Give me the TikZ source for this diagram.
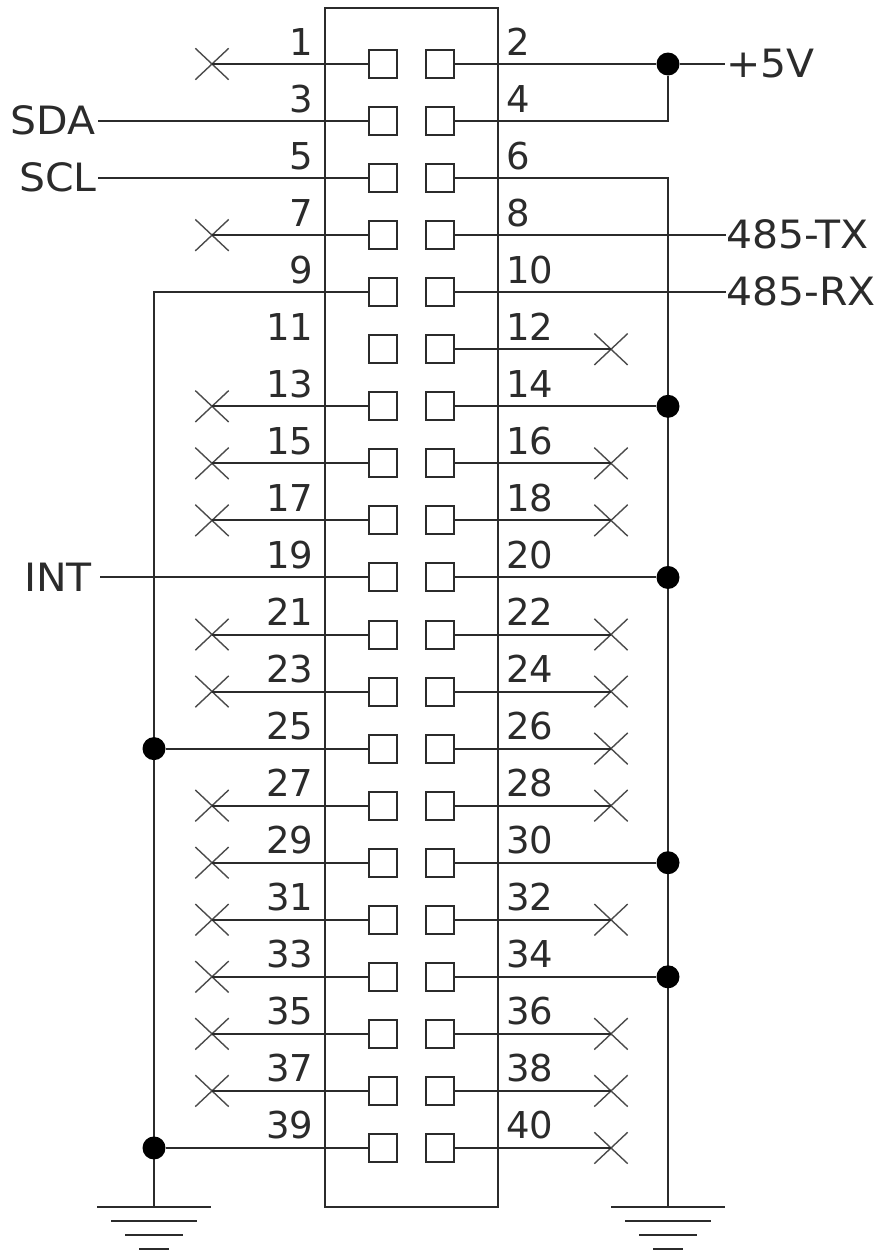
\documentclass[tikz,border=0pt]{standalone}
\usepackage{fontspec}
\setmainfont{DejaVu Sans}
\newfontfamily\sigfont[FakeStretch=1.05]{DejaVu Sans}
\usetikzlibrary{shapes.misc}
\definecolor{ink}{HTML}{2B2B2B}
\tikzset{
  wire/.style={draw=ink,line width=2pt},
  pin/.style={draw=ink,line width=2pt,rectangle,minimum size=28pt,inner sep=0pt,fill=white},
  nc/.style={cross out,draw=ink!85,line width=1.4pt,minimum width=32pt,minimum height=30pt,inner sep=0pt},
  junction/.style={circle,fill=black,minimum size=23pt,inner sep=0pt},
  num/.style={inner sep=0pt,text=ink,font=\fontsize{37}{37}\selectfont},
  sig/.style={inner sep=0pt,text=ink,font=\sigfont\fontsize{39}{39}\selectfont},
}
\begin{document}
\begin{tikzpicture}[x=1pt,y=-1pt]
\useasboundingbox (0,0) rectangle (881,1253);
\node[draw=ink,line width=2pt,rectangle,minimum width=173pt,minimum height=1199pt,inner sep=0pt] (box) at (411.5,607.5) {};
\foreach \n [evaluate=\n as \y using 64+57.05*(\n-1)/2] in {1,3,...,39}{
  \node[pin] (p\n) at (383,\y) {};
  \node[num,anchor=base east] (t\n) at (313.5,\y-9) {\n};
}
\foreach \n [evaluate=\n as \y using 64+57.05*(\n-2)/2] in {2,4,...,40}{
  \node[pin] (p\n) at (439.5,\y) {};
  \node[num,anchor=base west] (t\n) at (506,\y-9) {\n};
}
% unconnected left pins
\foreach \n in {1,7,13,15,17,21,23,27,29,31,33,35,37}{
  \node[nc] (x\n) at (p\n -| 212,0) {};
  \draw[wire] (p\n.west) -- (x\n.center);
}
% unconnected right pins
\foreach \n in {12,16,18,22,24,26,28,32,36,38,40}{
  \node[nc] (x\n) at (p\n -| 611,0) {};
  \draw[wire] (p\n.east) -- (x\n.center);
}
% signal labels, left
\node[sig,anchor=base east] (sda) at (96,134) {SDA};
\node[sig,anchor=base east] (scl) at (97,191) {SCL};
\node[sig,anchor=base east] (int) at (92,591) {INT};
\coordinate (sdaw) at (p3 -| 98,0);
\coordinate (sclw) at (p5 -| 98,0);
\coordinate (intw) at (p19 -| 100,0);
\draw[wire] (sdaw) -- (p3.west);
\draw[wire] (sclw) -- (p5.west);
\draw[wire] (intw) -- (p19.west);
% signal labels, right
\node[sig,anchor=base west] (vcc) at (726,77) {+5V};
\node[sig,anchor=base west] (tx) at (726,248) {485-TX};
\node[sig,anchor=base west] (rx) at (726,305) {485-RX};
\coordinate (vccw) at (p2 -| 725,0);
\coordinate (txw) at (p8 -| 726,0);
\coordinate (rxw) at (p10 -| 726,0);
\node[junction] (j5) at (p2 -| 668,0) {};
\draw[wire] (p2.east) -- (j5);
\draw[wire] (j5) -- (vccw);
\draw[wire] (p4.east) -| (j5.south);
\draw[wire] (p8.east) -- (txw);
\draw[wire] (p10.east) -- (rxw);
% ground symbols
\coordinate (gl) at (154,1207);
\coordinate (gr) at (668,1207);
\foreach \g in {gl,gr}{
  \draw[wire] ([xshift=-57pt]\g) -- ([xshift=57pt]\g);
  \draw[wire] ([shift={(-43pt,-14pt)}]\g) -- ([shift={(43pt,-14pt)}]\g);
  \draw[wire] ([shift={(-29pt,-28pt)}]\g) -- ([shift={(29pt,-28pt)}]\g);
  \draw[wire] ([shift={(-15pt,-42pt)}]\g) -- ([shift={(15pt,-42pt)}]\g);
}
% left bus
\draw[wire] (p9.west) -| (gl);
\foreach \n in {25,39}{
  \node[junction] (j\n) at (p\n -| gl) {};
  \draw[wire] (j\n) -- (p\n.west);
}
% right bus
\draw[wire] (p6.east) -| (gr);
\foreach \n in {14,20,30,34}{
  \node[junction] (j\n) at (p\n -| gr) {};
  \draw[wire] (p\n.east) -- (j\n);
}
\end{tikzpicture}
\end{document}
